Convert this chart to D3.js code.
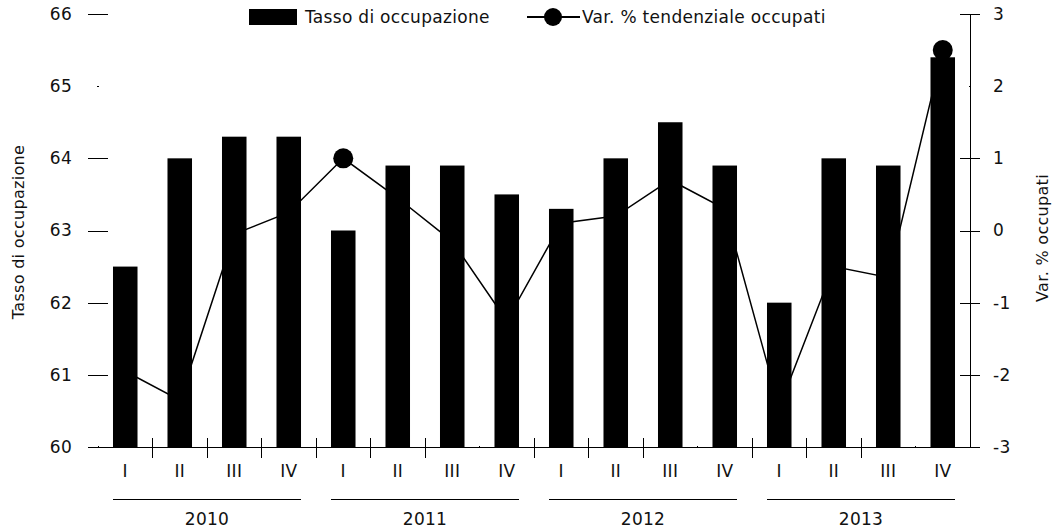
<!DOCTYPE html>
<html>
<head>
<meta charset="utf-8">
<script src="https://cdn.jsdelivr.net/npm/d3@7"></script>
<style>
  body { margin: 0; background: #fff; }
  svg text { font-family: "DejaVu Sans", sans-serif; font-size: 17px; letter-spacing: 0.3px; fill: #111; }
  svg line, svg .domain { shape-rendering: crispEdges; }
</style>
</head>
<body>
<svg id="chart" width="1054" height="528"></svg>
<script>
const years = ['2010', '2011', '2012', '2013'];
const quarters = ['I', 'II', 'III', 'IV'];
// Tasso di occupazione (asse sinistro)
const tassoOccupazione = [62.5, 64.0, 64.3, 64.3, 63.0, 63.9, 63.9, 63.5, 63.3, 64.0, 64.5, 63.9, 62.0, 64.0, 63.9, 65.4];
// Var. % tendenziale occupati (asse destro)
const varOccupati = [-1.95, -2.35, -0.05, 0.25, 1.0, 0.45, -0.15, -1.25, 0.1, 0.2, 0.7, 0.3, -2.45, -0.5, -0.65, 2.5];
const leftTicks = [60, 61, 62, 63, 64, 65, 66];
const rightTicks = [-3, -2, -1, 0, 1, 2, 3];

const categories = years.flatMap(y => quarters.map(q => y + '-' + q));
const rows = categories.map((c, i) => ({ cat: c, tasso: tassoOccupazione[i], varOcc: varOccupati[i] }));

const svg = d3.select('#chart');
const plotLeft = 98, plotRight = 970, plotTop = 14, plotBottom = 447;

const x = d3.scaleBand().domain(categories).range([plotLeft, plotRight]).paddingInner(0.55).paddingOuter(0.275);
const yL = d3.scaleLinear().domain([60, 66]).range([plotBottom, plotTop]);
const yR = d3.scaleLinear().domain([-3, 3]).range([plotBottom, plotTop]);
const cx = c => x(c) + x.bandwidth() / 2;

// line first, the bars cover it
const line = d3.line().x(d => cx(d.cat)).y(d => yR(d.varOcc));
svg.append('path')
  .datum(rows)
  .attr('d', line)
  .attr('fill', 'none')
  .attr('stroke', '#000')
  .attr('stroke-width', 1.5);

svg.selectAll('circle.pt')
  .data(rows)
  .enter()
  .append('circle')
  .attr('class', 'pt')
  .attr('cx', d => cx(d.cat))
  .attr('cy', d => yR(d.varOcc))
  .attr('r', 10)
  .attr('fill', '#000');

svg.selectAll('rect.bar')
  .data(rows)
  .enter()
  .append('rect')
  .attr('class', 'bar')
  .attr('x', d => x(d.cat))
  .attr('y', d => yL(d.tasso))
  .attr('width', x.bandwidth())
  .attr('height', d => yL(60) - yL(d.tasso))
  .attr('fill', '#000');

// left axis: crossing ticks, no domain line
const gL = svg.append('g')
  .attr('transform', `translate(${plotLeft},0)`)
  .call(d3.axisLeft(yL).tickValues(leftTicks).tickSize(10).tickPadding(16).tickFormat(d => String(d)));
gL.select('.domain').remove();
gL.selectAll('.tick line').attr('x1', d => d === 65 ? -1 : 10).attr('x2', d => d === 65 ? 1 : -10);

// right axis
const gR = svg.append('g')
  .attr('transform', `translate(${plotRight},0)`)
  .call(d3.axisRight(yR).tickValues(rightTicks).tickSize(10).tickSizeOuter(0).tickPadding(13).tickFormat(d => String(d)));
gR.selectAll('.tick line').attr('x1', d => d === 2 ? -1 : -10).attr('x2', d => d === 2 ? 1 : 10);

svg.selectAll('.tick text').style('font-size', '17px').attr('fill', '#111');

// x baseline and boundary ticks
svg.append('line')
  .attr('x1', plotLeft - 10).attr('x2', plotRight)
  .attr('y1', plotBottom).attr('y2', plotBottom)
  .attr('stroke', '#000');

const faintBounds = [0, 7, 11, 15];
const bounds = categories.map((c, i) => ({ i, pos: x(c) - x.step() * x.paddingInner() / 2 }));
svg.selectAll('line.xt')
  .data(bounds)
  .enter()
  .append('line')
  .attr('class', 'xt')
  .attr('x1', d => d.pos).attr('x2', d => d.pos)
  .attr('y1', d => faintBounds.includes(d.i) ? plotBottom - 1 : plotBottom - 9)
  .attr('y2', d => faintBounds.includes(d.i) ? plotBottom + 1 : plotBottom + 11)
  .attr('stroke', '#000');

// quarter labels
svg.append('g')
  .attr('transform', `translate(0,${plotBottom})`)
  .call(d3.axisBottom(x).tickSize(0).tickPadding(18).tickFormat(d => d.split('-')[1]))
  .call(g => g.select('.domain').remove())
  .selectAll('text').style('font-size', '17px').attr('fill', '#111');

// year groups
years.forEach(y => {
  const first = y + '-I', last = y + '-IV';
  svg.append('line')
    .attr('x1', x(first)).attr('x2', x(last) + x.bandwidth())
    .attr('y1', 499).attr('y2', 499)
    .attr('stroke', '#000');
  svg.append('text')
    .attr('x', (x(first) + x(last) + x.bandwidth()) / 2)
    .attr('y', 525)
    .attr('text-anchor', 'middle')
    .text(y);
});

// axis titles
svg.append('text')
  .attr('transform', 'translate(24,232) rotate(-90)')
  .attr('text-anchor', 'middle')
  .style('font-size', '16px')
  .text('Tasso di occupazione');
svg.append('text')
  .attr('transform', 'translate(1048,238) rotate(-90)')
  .attr('text-anchor', 'middle')
  .style('font-size', '16px')
  .text('Var. % occupati');

// legend
svg.append('rect').attr('x', 249).attr('y', 9).attr('width', 48).attr('height', 16).attr('fill', '#000');
svg.append('text').attr('x', 305).attr('y', 23).text('Tasso di occupazione');
svg.append('line').attr('x1', 527).attr('x2', 580).attr('y1', 17).attr('y2', 17).attr('stroke', '#000').attr('stroke-width', 1.5);
svg.append('circle').attr('cx', 553).attr('cy', 17).attr('r', 9).attr('fill', '#000');
svg.append('text').attr('x', 582).attr('y', 23).text('Var. % tendenziale occupati');
</script>
</body>
</html>
